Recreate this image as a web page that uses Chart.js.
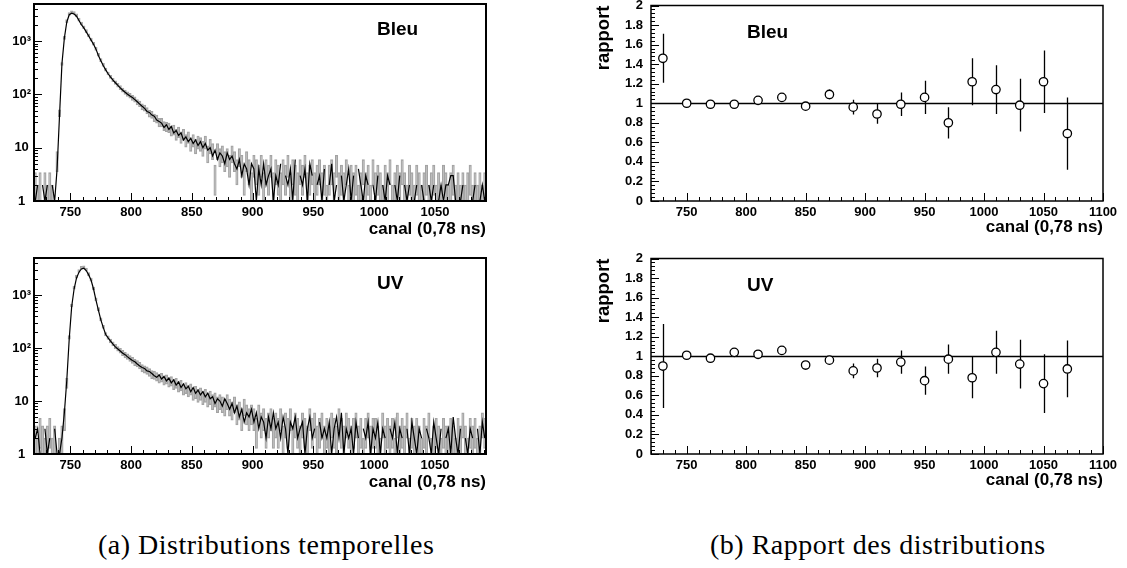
<!DOCTYPE html>
<html lang="fr">
<head>
<meta charset="UTF-8">
<title>Distributions temporelles</title>
<script src="https://cdn.jsdelivr.net/npm/chart.js@4"></script>
<style>
  body { margin: 0; background: #fff; width: 1127px; height: 568px; overflow: hidden; position: relative; }
  canvas { position: absolute; }
  .legende { position: absolute; font-family: "Liberation Serif", "Times New Roman", serif; font-size: 28px; letter-spacing: 0.5px; line-height: 30px; color: #000; white-space: nowrap; }
</style>
</head>
<body>
<canvas id="tempsBleu" width="500" height="245" style="left:0;top:0"></canvas>
<canvas id="tempsUV" width="500" height="245" style="left:0;top:253px"></canvas>
<canvas id="rapportBleuCanvas" width="537" height="245" style="left:590px;top:0"></canvas>
<canvas id="rapportUVCanvas" width="537" height="245" style="left:590px;top:253px"></canvas>
<div class="legende" style="left:98px;top:530px">(a) Distributions temporelles</div>
<div class="legende" style="left:710px;top:530px">(b) Rapport des distributions</div>
<script>
// histogrammes : bins de 2 canaux à partir du canal 720
const binStart = 720;
const binWidth = 2;

// une ligne = 10 bins (20 canaux)
const bleuMesure = [
  1, 2, 0, 2, 1, 2, 0, 2, 1, 4,                          // 720
  40, 380, 1150, 2300, 3150, 3350, 3250, 2950, 2450, 2050, // 740
  1780, 1500, 1250, 1050, 880, 710, 540, 430, 350, 290,   // 760
  245, 212, 186, 166, 148, 133, 120, 110, 101, 94,        // 780
  88, 80, 73, 66, 60, 55, 48, 46, 41, 39,                 // 800
  33, 31, 29, 24, 27, 22, 25, 19, 21, 17,                 // 820
  19, 14, 16, 13, 15, 12, 14, 11, 13, 10,                 // 840
  12, 9, 10, 7, 9, 6, 8, 7, 5, 8,                         // 860
  6, 7, 5, 4, 6, 3, 5, 4, 2, 5,                           // 880
  4, 1, 4, 2, 5, 2, 3, 4, 1, 3,                           // 900
  2, 5, 0, 3, 2, 4, 1, 6, 0, 3,                           // 920
  2, 4, 1, 5, 3, 0, 2, 3, 1, 4,                           // 940
  0, 2, 5, 1, 2, 0, 3, 1, 2, 4,                           // 960
  1, 3, 0, 4, 2, 1, 3, 2, 0, 2,                           // 980
  1, 3, 0, 2, 1, 3, 2, 0, 2, 1,                           // 1000
  3, 0, 2, 1, 2, 0, 1, 2, 0, 2,                           // 1020
  1, 0, 2, 1, 2, 0, 1, 2, 1, 2,                           // 1040
  2, 3, 3, 1, 0, 1, 2, 0, 1, 0,                           // 1060
  1, 2, 0, 1, 2, 1                                        // 1080
];
const bleuReference = [
  2, 1, 2, 0, 2, 1, 2, 1, 0, 6,
  45, 370, 1120, 2280, 3100, 3320, 3230, 2920, 2430, 2060,
  1760, 1490, 1240, 1040, 870, 700, 545, 435, 355, 292,
  248, 214, 188, 167, 150, 135, 121, 111, 102, 95,
  87, 81, 72, 67, 59, 56, 50, 44, 42, 37,
  35, 30, 30, 26, 25, 24, 21, 22, 18, 20,
  16, 18, 14, 16, 12, 14, 11, 13, 12, 10,
  13, 8, 11, 9, 3, 9, 7, 8, 6, 7,
  5, 8, 6, 4, 7, 5, 3, 6, 4, 2,
  5, 4, 3, 5, 2, 4, 3, 5, 2, 4,
  3, 2, 4, 3, 5, 2, 4, 3, 2, 4,
  3, 5, 2, 3, 4, 2, 3, 4, 2, 3,
  1, 3, 4, 2, 5, 2, 3, 2, 4, 1,
  3, 2, 3, 1, 2, 4, 2, 3, 1, 4,
  2, 3, 2, 1, 3, 2, 4, 1, 2, 3,
  2, 4, 2, 1, 3, 2, 1, 3, 2, 1,
  2, 3, 1, 2, 3, 1, 2, 1, 3, 2,
  1, 2, 3, 1, 2, 1, 2, 1, 2, 3,
  1, 2, 1, 2, 1, 2
];
const uvMesure = [
  2, 3, 1, 0, 3, 1, 2, 0, 3, 1,
  1, 2, 6, 25, 150, 600, 1300, 2100, 2700, 3100,
  3200, 2900, 2400, 1900, 1300, 800, 520, 340, 245, 180,
  155, 135, 118, 105, 96, 88, 80, 75, 68, 63,
  58, 55, 50, 46, 43, 41, 37, 36, 33, 30,
  28, 31, 26, 29, 24, 27, 22, 25, 20, 23,
  18, 21, 17, 19, 15, 18, 14, 16, 13, 15,
  12, 14, 11, 12, 9, 11, 10, 8, 11, 9,
  7, 9, 6, 8, 5, 7, 4, 6, 5, 7,
  4, 6, 3, 5, 4, 2, 5, 3, 6, 3,
  4, 2, 5, 3, 1, 4, 3, 5, 2, 3,
  4, 1, 3, 5, 2, 3, 0, 4, 2, 3,
  2, 4, 1, 3, 5, 2, 6, 1, 3, 2,
  3, 1, 4, 2, 0, 3, 2, 4, 1, 3,
  2, 4, 1, 3, 2, 0, 3, 2, 4, 1,
  3, 2, 0, 3, 1, 4, 2, 1, 3, 2,
  0, 3, 2, 1, 4, 2, 1, 3, 0, 2,
  3, 1, 5, 2, 1, 3, 0, 2, 1, 3,
  2, 0, 3, 1, 4, 2
];
const uvReference = [
  2, 1, 3, 2, 1, 2, 3, 1, 2, 0,
  1, 2, 5, 22, 160, 620, 1320, 2120, 2720, 3120,
  3180, 2880, 2380, 1880, 1280, 810, 530, 345, 250, 182,
  158, 136, 120, 107, 97, 89, 81, 74, 69, 64,
  59, 54, 51, 47, 42, 40, 38, 35, 32, 31,
  29, 27, 28, 25, 26, 23, 24, 21, 22, 19,
  20, 17, 18, 16, 17, 14, 15, 13, 14, 12,
  13, 11, 12, 10, 11, 9, 10, 9, 8, 10,
  8, 7, 9, 6, 7, 5, 8, 6, 5, 6,
  5, 3, 6, 4, 5, 3, 4, 5, 3, 4,
  3, 5, 2, 4, 3, 5, 2, 4, 3, 2,
  4, 3, 2, 5, 3, 4, 2, 3, 4, 2,
  3, 2, 4, 3, 2, 5, 3, 2, 4, 3,
  2, 3, 4, 2, 3, 1, 3, 4, 2, 3,
  3, 2, 1, 4, 2, 3, 2, 3, 1, 4,
  2, 3, 2, 4, 1, 3, 2, 3, 2, 1,
  3, 2, 4, 1, 2, 3, 2, 1, 3, 2,
  2, 3, 2, 1, 3, 2, 4, 2, 1, 3,
  2, 3, 1, 2, 4, 3
];

// rapports par tranches de 20 canaux
const rapportCanaux = [730, 750, 770, 790, 810, 830, 850, 870, 890, 910, 930, 950, 970, 990, 1010, 1030, 1050, 1070];
const rapportBleu = [1.46, 1.00, 0.99, 0.99, 1.03, 1.06, 0.97, 1.09, 0.96, 0.89, 0.99, 1.06, 0.80, 1.22, 1.14, 0.98, 1.22, 0.69];
const erreurBleu  = [0.25, 0.02, 0.02, 0.02, 0.02, 0.03, 0.03, 0.05, 0.075, 0.10, 0.12, 0.17, 0.16, 0.24, 0.25, 0.27, 0.32, 0.37];
const rapportUV   = [0.90, 1.01, 0.98, 1.04, 1.02, 1.06, 0.91, 0.96, 0.85, 0.88, 0.94, 0.75, 0.97, 0.78, 1.04, 0.92, 0.72, 0.87];
const erreurUV    = [0.43, 0.02, 0.02, 0.02, 0.02, 0.03, 0.03, 0.045, 0.075, 0.095, 0.12, 0.145, 0.15, 0.21, 0.22, 0.25, 0.30, 0.29];

const logTickValues = [1, 10, 100, 1000];
const logTickLabels = ['1', '10', '10²', '10³'];

const police = '"Liberation Sans", Arial, Helvetica, sans-serif';
const tickFont = { family: police, size: 13, weight: 'bold' };
const titleFont = { family: police, size: 17, weight: 'bold', lineHeight: 1.2 };
const yTitleFont = { family: police, size: 18.5, weight: 'bold', lineHeight: 1.2 };
const noGrid = { display: false, drawTicks: false };

// taille fixe des axes, sans marge ajoutée pour les étiquettes
const fixHeight = h => s => { s.height = h; s.paddingLeft = 0; s.paddingRight = 0; };
const fixWidth = w => s => { s.width = w; s.paddingTop = 0; s.paddingBottom = 0; };

// cadre ROOT : bord noir, graduations vers l'intérieur, étiquette du panneau
const cadre = {
  id: 'cadre',
  afterDatasetsDraw(chart, args, opts) {
    const { ctx, chartArea: a, scales: { x, y } } = chart;
    ctx.save();
    ctx.strokeStyle = '#000';
    ctx.lineWidth = 1;
    ctx.beginPath();
    for (let v = Math.ceil(x.min / 10) * 10; v <= x.max; v += 10) {
      const px = Math.round(x.getPixelForValue(v)) + 0.5;
      ctx.moveTo(px, a.bottom);
      ctx.lineTo(px, a.bottom - (v % 50 === 0 ? 8 : 4));
    }
    const yt = [];
    if (opts.log) {
      for (let p = 1; p <= y.max; p *= 10) {
        for (let k = 1; k <= 9; k++) {
          if (k * p <= y.max) yt.push({ v: k * p, major: k === 1 });
        }
      }
    } else {
      const n = Math.round((y.max - y.min) / 0.04);
      for (let i = 0; i <= n; i++) yt.push({ v: y.min + i * 0.04, major: i % 5 === 0 });
    }
    yt.forEach(t => {
      const py = Math.round(y.getPixelForValue(t.v)) + 0.5;
      ctx.moveTo(a.left, py);
      ctx.lineTo(a.left + (t.major ? 8 : 4), py);
    });
    ctx.stroke();
    ctx.lineWidth = opts.frameWidth;
    ctx.strokeRect(a.left, a.top, a.right - a.left, a.bottom - a.top);
    ctx.fillStyle = '#000';
    ctx.font = 'bold 19px ' + police;
    ctx.textBaseline = 'middle';
    ctx.textAlign = 'left';
    ctx.fillText(opts.label, a.left + opts.labelDx, a.top + opts.labelDy);
    ctx.restore();
  }
};

function countsChart(id, label, mesure, reference, padTop) {
  const centre = i => binStart + binWidth * (i + 0.5);
  const ligne = mesure.map((v, i) => ({ x: centre(i), y: v }));
  // boîtes d'erreur (contenu ± racine du contenu)
  const boites = reference.map((v, i) => ({
    x: centre(i),
    y: v > 0 ? [Math.max(v - Math.sqrt(v), 1), v + Math.sqrt(v)] : null
  }));
  return new Chart(document.getElementById(id), {
    type: 'bar',
    data: {
      datasets: [
        { type: 'line', data: ligne, borderColor: '#000', borderWidth: 1.2, pointRadius: 0, tension: 0 },
        { type: 'bar', data: boites, backgroundColor: 'rgba(200,200,200,0.35)', borderColor: '#a3a3a3',
          borderWidth: 1, borderSkipped: false, barPercentage: 1, categoryPercentage: 1, minBarLength: 3 }
      ]
    },
    options: {
      responsive: false,
      animation: false,
      events: [],
      layout: { padding: { top: padTop, right: 14, bottom: 0, left: 0 } },
      plugins: {
        legend: { display: false },
        tooltip: { enabled: false },
        cadre: { log: true, frameWidth: 2, label: label, labelDx: 343, labelDy: 26 }
      },
      scales: {
        x: {
          type: 'linear', min: 720, max: 1092, offset: false,
          grid: noGrid, border: { display: false },
          ticks: { stepSize: 50, includeBounds: false, autoSkip: false, maxRotation: 0, padding: 4,
                   font: tickFont, color: '#000', callback: v => String(v) },
          title: { display: true, text: 'canal (0,78 ns)', align: 'end', font: titleFont, color: '#000',
                   padding: { top: 0, bottom: 5 } },
          afterFit: fixHeight(44)
        },
        y: {
          type: 'logarithmic', min: 1, max: 5000,
          grid: noGrid, border: { display: false },
          afterBuildTicks: s => { s.ticks = logTickValues.map(v => ({ value: v })); },
          ticks: { font: tickFont, color: '#000', padding: 3, crossAlign: 'center',
                   callback: v => logTickLabels[logTickValues.indexOf(v)] },
          afterFit: fixWidth(34)
        }
      }
    },
    plugins: [cadre]
  });
}

function ratioChart(id, label, valeurs, erreurs, padTop) {
  const points = rapportCanaux.map((c, i) => ({ x: c, y: valeurs[i] }));
  const barres = {
    id: 'barres',
    beforeDatasetsDraw(chart) {
      const { ctx, chartArea: a, scales: { x, y } } = chart;
      ctx.save();
      ctx.strokeStyle = '#000';
      ctx.lineWidth = 1.3;
      ctx.beginPath();
      const p1 = Math.round(y.getPixelForValue(1)) + 0.5;
      ctx.moveTo(a.left, p1);
      ctx.lineTo(a.right, p1);
      points.forEach((p, i) => {
        const px = Math.round(x.getPixelForValue(p.x)) + 0.5;
        ctx.moveTo(px, y.getPixelForValue(p.y - erreurs[i]));
        ctx.lineTo(px, y.getPixelForValue(p.y + erreurs[i]));
      });
      ctx.stroke();
      ctx.restore();
    }
  };
  return new Chart(document.getElementById(id), {
    type: 'scatter',
    data: {
      datasets: [{ data: points, showLine: false, pointRadius: 4.2, pointBorderWidth: 1.3,
                   pointBackgroundColor: '#fff', pointBorderColor: '#000' }]
    },
    options: {
      responsive: false,
      animation: false,
      events: [],
      layout: { padding: { top: padTop, right: 24, bottom: 0, left: 0 } },
      plugins: {
        legend: { display: false },
        tooltip: { enabled: false },
        cadre: { log: false, frameWidth: 1.5, label: label, labelDx: 96, labelDy: 27 }
      },
      scales: {
        x: {
          type: 'linear', min: 720, max: 1100,
          grid: noGrid, border: { display: false },
          ticks: { stepSize: 50, includeBounds: false, autoSkip: false, maxRotation: 0, padding: 4,
                   font: tickFont, color: '#000', callback: v => String(v) },
          title: { display: true, text: 'canal (0,78 ns)', align: 'end', font: titleFont, color: '#000',
                   padding: { top: 0, bottom: 7 } },
          afterFit: fixHeight(44)
        },
        y: {
          type: 'linear', min: 0, max: 2,
          grid: noGrid, border: { display: false },
          ticks: { stepSize: 0.2, autoSkip: false, padding: 8, font: tickFont, color: '#000',
                   callback: v => String(Math.round(v * 10) / 10) },
          title: { display: true, text: 'rapport', align: 'end', font: yTitleFont, color: '#000',
                   padding: { top: 3, bottom: 0 } },
          afterFit: fixWidth(61)
        }
      }
    },
    plugins: [barres, cadre]
  });
}

countsChart('tempsBleu', 'Bleu', bleuMesure, bleuReference, 4);
countsChart('tempsUV', 'UV', uvMesure, uvReference, 5);
ratioChart('rapportBleuCanvas', 'Bleu', rapportBleu, erreurBleu, 4);
ratioChart('rapportUVCanvas', 'UV', rapportUV, erreurUV, 5);
</script>
</body>
</html>
